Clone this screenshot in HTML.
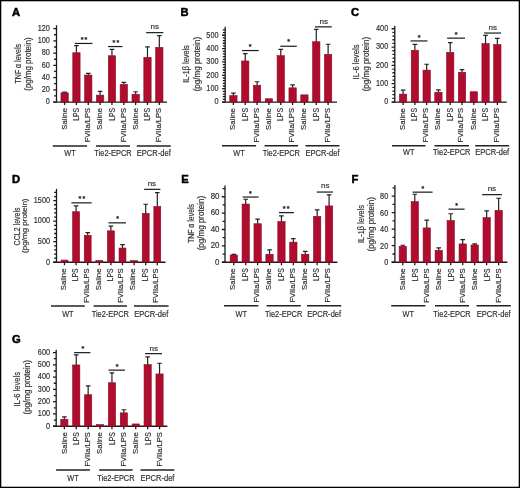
<!DOCTYPE html>
<html><head><meta charset="utf-8"><title>Figure</title>
<style>
html,body{margin:0;padding:0;background:#fff;}
body{width:520px;height:488px;overflow:hidden;}
svg{display:block;filter:blur(0.3px);}
text{font-family:"Liberation Sans", Arial, sans-serif;fill:#303030;stroke:#303030;stroke-width:0.18px;}
.let{font-weight:bold;font-size:11.2px;fill:#000;stroke:#000;stroke-width:0.5px;}
.tk{font-size:8.3px;text-anchor:end;}
.rl{font-size:8.2px;text-anchor:end;}
.gt{font-size:8.8px;text-anchor:middle;}
.yl{font-size:8.2px;text-anchor:middle;}
.ns{font-size:8px;text-anchor:middle;}
.st{font-size:7px;font-weight:bold;text-anchor:middle;fill:#111;letter-spacing:1.2px;}
.ax{stroke:#1a1a1a;stroke-width:1.3;fill:none;}
.err{stroke:#222;stroke-width:1.2;fill:none;}
.sig{stroke:#1a1a1a;stroke-width:1.2;fill:none;}
.grp{stroke:#222;stroke-width:1.5;fill:none;}
.bar{fill:#B00C2E;stroke:#860A24;stroke-width:0.6;}
</style></head>
<body>
<svg width="520" height="488" viewBox="0 0 520 488">
<rect x="0.5" y="0.5" width="519" height="487" fill="#fff" stroke="#000" stroke-width="1.6"/>
<text x="12" y="16" class="let">A</text>
<text x="49.8" y="104.35" class="tk" textLength="4.05" lengthAdjust="spacingAndGlyphs">0</text>
<text x="49.8" y="92.12" class="tk" textLength="8.1" lengthAdjust="spacingAndGlyphs">20</text>
<text x="49.8" y="79.88" class="tk" textLength="8.1" lengthAdjust="spacingAndGlyphs">40</text>
<text x="49.8" y="67.65" class="tk" textLength="8.1" lengthAdjust="spacingAndGlyphs">60</text>
<text x="49.8" y="55.42" class="tk" textLength="8.1" lengthAdjust="spacingAndGlyphs">80</text>
<text x="49.8" y="43.18" class="tk" textLength="12.15" lengthAdjust="spacingAndGlyphs">100</text>
<text x="49.8" y="30.95" class="tk" textLength="12.15" lengthAdjust="spacingAndGlyphs">120</text>
<path d="M53.3 102.05H56.5 M54.1 95.93H56.5 M53.3 89.82H56.5 M54.1 83.7H56.5 M53.3 77.58H56.5 M54.1 71.47H56.5 M53.3 65.35H56.5 M54.1 59.23H56.5 M53.3 53.12H56.5 M54.1 47H56.5 M53.3 40.88H56.5 M54.1 34.77H56.5 M53.3 28.65H56.5" class="ax" stroke-width="1"/>
<path d="M56.5 25.25V102.05" class="ax"/>
<path d="M53.2 102.05H167" class="ax"/>
<rect x="60.95" y="92.85" width="7.3" height="9.2" class="bar"/>
<path d="M64.6 92.85V92.05M62.3 92.05H66.9" class="err"/>
<text transform="translate(66.85 108) rotate(-90)" class="rl" style="font-size:7.7px" textLength="21.8" lengthAdjust="spacingAndGlyphs">Saline</text>
<rect x="72.79" y="52.75" width="7.3" height="49.3" class="bar"/>
<path d="M76.44 52.75V45.65M74.14 45.65H78.74" class="err"/>
<text transform="translate(79.37 108) rotate(-90)" class="rl" style="font-size:8.2px" textLength="12.8" lengthAdjust="spacingAndGlyphs">LPS</text>
<rect x="84.63" y="75.05" width="7.3" height="27" class="bar"/>
<path d="M88.28 75.05V73.35M85.98 73.35H90.58" class="err"/>
<text transform="translate(90.24 108) rotate(-90)" class="rl" style="font-size:8.0px" textLength="34.3" lengthAdjust="spacingAndGlyphs">FVIIa/LPS</text>
<rect x="96.47" y="95.15" width="7.3" height="6.9" class="bar"/>
<path d="M100.12 95.15V91.45M97.82 91.45H102.42" class="err"/>
<text transform="translate(102.37 108) rotate(-90)" class="rl" style="font-size:7.7px" textLength="21.8" lengthAdjust="spacingAndGlyphs">Saline</text>
<rect x="108.31" y="55.75" width="7.3" height="46.3" class="bar"/>
<path d="M111.96 55.75V49.45M109.66 49.45H114.26" class="err"/>
<text transform="translate(114.89 108) rotate(-90)" class="rl" style="font-size:8.2px" textLength="12.8" lengthAdjust="spacingAndGlyphs">LPS</text>
<rect x="120.15" y="84.45" width="7.3" height="17.6" class="bar"/>
<path d="M123.8 84.45V82.45M121.5 82.45H126.1" class="err"/>
<text transform="translate(125.76 108) rotate(-90)" class="rl" style="font-size:8.0px" textLength="34.3" lengthAdjust="spacingAndGlyphs">FVIIa/LPS</text>
<rect x="131.99" y="94.25" width="7.3" height="7.8" class="bar"/>
<path d="M135.64 94.25V91.75M133.34 91.75H137.94" class="err"/>
<text transform="translate(137.89 108) rotate(-90)" class="rl" style="font-size:7.7px" textLength="21.8" lengthAdjust="spacingAndGlyphs">Saline</text>
<rect x="143.83" y="57.35" width="7.3" height="44.7" class="bar"/>
<path d="M147.48 57.35V46.95M145.18 46.95H149.78" class="err"/>
<text transform="translate(150.41 108) rotate(-90)" class="rl" style="font-size:8.2px" textLength="12.8" lengthAdjust="spacingAndGlyphs">LPS</text>
<rect x="155.67" y="47.45" width="7.3" height="54.6" class="bar"/>
<path d="M159.32 47.45V35.65M157.02 35.65H161.62" class="err"/>
<text transform="translate(161.28 108) rotate(-90)" class="rl" style="font-size:8.0px" textLength="34.3" lengthAdjust="spacingAndGlyphs">FVIIa/LPS</text>
<path d="M64.6 102.05V104.95 M76.44 102.05V104.95 M88.28 102.05V104.95 M100.12 102.05V104.95 M111.96 102.05V104.95 M123.8 102.05V104.95 M135.64 102.05V104.95 M147.48 102.05V104.95 M159.32 102.05V104.95" class="ax" stroke-width="1.1"/>
<path d="M74.8 43.45H92.5" class="sig"/>
<text x="84.6" y="41.9" class="st">**</text>
<path d="M108.1 46.55H122.5" class="sig"/>
<text x="116.5" y="45.1" class="st">**</text>
<path d="M146.2 32.65H163.3" class="sig"/>
<text x="154.7" y="28.6" class="ns">ns</text>
<path d="M52.8 145.9H87.1" class="grp"/>
<text x="69.95" y="155.5" class="gt" textLength="11.4" lengthAdjust="spacingAndGlyphs">WT</text>
<path d="M96 145.9H130" class="grp"/>
<text x="113" y="155.5" class="gt" textLength="37.3" lengthAdjust="spacingAndGlyphs">Tie2-EPCR</text>
<path d="M136.8 145.9H170.7" class="grp"/>
<text x="153.75" y="155.5" class="gt" textLength="34" lengthAdjust="spacingAndGlyphs">EPCR-def</text>
<text transform="translate(20.7 63.7) rotate(-90)" class="yl" textLength="39.5" lengthAdjust="spacingAndGlyphs">TNF α levels</text>
<text transform="translate(30.5 64) rotate(-90)" class="yl" style="font-size:8.2px" textLength="53.5" lengthAdjust="spacingAndGlyphs">(pg/mg protein)</text>
<text x="180.4" y="16" class="let">B</text>
<text x="218.5" y="104.35" class="tk" textLength="4.05" lengthAdjust="spacingAndGlyphs">0</text>
<text x="218.5" y="90.99" class="tk" textLength="12.15" lengthAdjust="spacingAndGlyphs">100</text>
<text x="218.5" y="77.63" class="tk" textLength="12.15" lengthAdjust="spacingAndGlyphs">200</text>
<text x="218.5" y="64.27" class="tk" textLength="12.15" lengthAdjust="spacingAndGlyphs">300</text>
<text x="218.5" y="50.91" class="tk" textLength="12.15" lengthAdjust="spacingAndGlyphs">400</text>
<text x="218.5" y="37.55" class="tk" textLength="12.15" lengthAdjust="spacingAndGlyphs">500</text>
<path d="M222 102.05H225.2 M222.8 99.38H225.2 M222.8 96.71H225.2 M222.8 94.03H225.2 M222.8 91.36H225.2 M222 88.69H225.2 M222.8 86.02H225.2 M222.8 83.35H225.2 M222.8 80.67H225.2 M222.8 78H225.2 M222 75.33H225.2 M222.8 72.66H225.2 M222.8 69.99H225.2 M222.8 67.31H225.2 M222.8 64.64H225.2 M222 61.97H225.2 M222.8 59.3H225.2 M222.8 56.63H225.2 M222.8 53.95H225.2 M222.8 51.28H225.2 M222 48.61H225.2 M222.8 45.94H225.2 M222.8 43.27H225.2 M222.8 40.59H225.2 M222.8 37.92H225.2 M222 35.25H225.2 M222.8 32.58H225.2 M222.8 29.91H225.2" class="ax" stroke-width="1"/>
<path d="M225.2 26.65V102.05" class="ax"/>
<path d="M222.2 102.05H337" class="ax"/>
<rect x="229.75" y="95.65" width="7.3" height="6.4" class="bar"/>
<path d="M233.4 95.65V93.05M231.1 93.05H235.7" class="err"/>
<text transform="translate(235.25 108.1) rotate(-90)" class="rl" style="font-size:7.7px" textLength="21.8" lengthAdjust="spacingAndGlyphs">Saline</text>
<rect x="241.59" y="60.95" width="7.3" height="41.1" class="bar"/>
<path d="M245.24 60.95V53.55M242.94 53.55H247.54" class="err"/>
<text transform="translate(247.77 108.1) rotate(-90)" class="rl" style="font-size:8.2px" textLength="12.8" lengthAdjust="spacingAndGlyphs">LPS</text>
<rect x="253.43" y="85.25" width="7.3" height="16.8" class="bar"/>
<path d="M257.08 85.25V81.75M254.78 81.75H259.38" class="err"/>
<text transform="translate(258.64 108.1) rotate(-90)" class="rl" style="font-size:8.0px" textLength="34.3" lengthAdjust="spacingAndGlyphs">FVIIa/LPS</text>
<rect x="265.27" y="98.75" width="7.3" height="3.3" class="bar"/>
<text transform="translate(270.77 108.1) rotate(-90)" class="rl" style="font-size:7.7px" textLength="21.8" lengthAdjust="spacingAndGlyphs">Saline</text>
<rect x="277.11" y="55.65" width="7.3" height="46.4" class="bar"/>
<path d="M280.76 55.65V49.45M278.46 49.45H283.06" class="err"/>
<text transform="translate(283.29 108.1) rotate(-90)" class="rl" style="font-size:8.2px" textLength="12.8" lengthAdjust="spacingAndGlyphs">LPS</text>
<rect x="288.95" y="87.85" width="7.3" height="14.2" class="bar"/>
<path d="M292.6 87.85V84.95M290.3 84.95H294.9" class="err"/>
<text transform="translate(294.16 108.1) rotate(-90)" class="rl" style="font-size:8.0px" textLength="34.3" lengthAdjust="spacingAndGlyphs">FVIIa/LPS</text>
<rect x="300.79" y="94.85" width="7.3" height="7.2" class="bar"/>
<text transform="translate(306.29 108.1) rotate(-90)" class="rl" style="font-size:7.7px" textLength="21.8" lengthAdjust="spacingAndGlyphs">Saline</text>
<rect x="312.63" y="41.75" width="7.3" height="60.3" class="bar"/>
<path d="M316.28 41.75V29.45M313.98 29.45H318.58" class="err"/>
<text transform="translate(318.81 108.1) rotate(-90)" class="rl" style="font-size:8.2px" textLength="12.8" lengthAdjust="spacingAndGlyphs">LPS</text>
<rect x="324.47" y="54.35" width="7.3" height="47.7" class="bar"/>
<path d="M328.12 54.35V44.25M325.82 44.25H330.42" class="err"/>
<text transform="translate(329.68 108.1) rotate(-90)" class="rl" style="font-size:8.0px" textLength="34.3" lengthAdjust="spacingAndGlyphs">FVIIa/LPS</text>
<path d="M233.4 102.05V104.95 M245.24 102.05V104.95 M257.08 102.05V104.95 M268.92 102.05V104.95 M280.76 102.05V104.95 M292.6 102.05V104.95 M304.44 102.05V104.95 M316.28 102.05V104.95 M328.12 102.05V104.95" class="ax" stroke-width="1.1"/>
<path d="M242.1 50.55H258.7" class="sig"/>
<text x="250.7" y="48.5" class="st">*</text>
<path d="M280.3 46.25H296.8" class="sig"/>
<text x="289.1" y="43.9" class="st">*</text>
<path d="M314.9 26.85H331.8" class="sig"/>
<text x="323.8" y="23.5" class="ns">ns</text>
<path d="M222 145.8H256.1" class="grp"/>
<text x="239.05" y="155.5" class="gt" textLength="11.4" lengthAdjust="spacingAndGlyphs">WT</text>
<path d="M264.6 145.8H298" class="grp"/>
<text x="281.3" y="155.5" class="gt" textLength="37.3" lengthAdjust="spacingAndGlyphs">Tie2-EPCR</text>
<path d="M305.5 145.8H339.5" class="grp"/>
<text x="322.5" y="155.5" class="gt" textLength="34" lengthAdjust="spacingAndGlyphs">EPCR-def</text>
<text transform="translate(189.1 64) rotate(-90)" class="yl" textLength="37.5" lengthAdjust="spacingAndGlyphs">IL-1β levels</text>
<text transform="translate(199.8 64.1) rotate(-90)" class="yl" style="font-size:8.2px" textLength="54.5" lengthAdjust="spacingAndGlyphs">(pg/mg protein)</text>
<text x="350.9" y="16" class="let">C</text>
<text x="388.2" y="104.35" class="tk" textLength="4.05" lengthAdjust="spacingAndGlyphs">0</text>
<text x="388.2" y="86.02" class="tk" textLength="12.15" lengthAdjust="spacingAndGlyphs">100</text>
<text x="388.2" y="67.7" class="tk" textLength="12.15" lengthAdjust="spacingAndGlyphs">200</text>
<text x="388.2" y="49.37" class="tk" textLength="12.15" lengthAdjust="spacingAndGlyphs">300</text>
<text x="388.2" y="31.05" class="tk" textLength="12.15" lengthAdjust="spacingAndGlyphs">400</text>
<path d="M391.6 102.05H394.8 M392.4 98.38H394.8 M392.4 94.72H394.8 M392.4 91.05H394.8 M392.4 87.39H394.8 M391.6 83.72H394.8 M392.4 80.06H394.8 M392.4 76.39H394.8 M392.4 72.73H394.8 M392.4 69.06H394.8 M391.6 65.4H394.8 M392.4 61.73H394.8 M392.4 58.07H394.8 M392.4 54.41H394.8 M392.4 50.74H394.8 M391.6 47.07H394.8 M392.4 43.41H394.8 M392.4 39.74H394.8 M392.4 36.08H394.8 M392.4 32.41H394.8 M391.6 28.75H394.8" class="ax" stroke-width="1"/>
<path d="M394.8 25.85V102.05" class="ax"/>
<path d="M391.8 102.05H506.8" class="ax"/>
<rect x="399.45" y="94.15" width="7.3" height="7.9" class="bar"/>
<path d="M403.1 94.15V90.05M400.8 90.05H405.4" class="err"/>
<text transform="translate(404.85 108.1) rotate(-90)" class="rl" style="font-size:7.7px" textLength="21.8" lengthAdjust="spacingAndGlyphs">Saline</text>
<rect x="411.23" y="50.25" width="7.3" height="51.8" class="bar"/>
<path d="M414.88 50.25V44.35M412.58 44.35H417.18" class="err"/>
<text transform="translate(417.31 108.1) rotate(-90)" class="rl" style="font-size:8.2px" textLength="12.8" lengthAdjust="spacingAndGlyphs">LPS</text>
<rect x="423.01" y="70.15" width="7.3" height="31.9" class="bar"/>
<path d="M426.66 70.15V64.25M424.36 64.25H428.96" class="err"/>
<text transform="translate(428.12 108.1) rotate(-90)" class="rl" style="font-size:8.0px" textLength="34.3" lengthAdjust="spacingAndGlyphs">FVIIa/LPS</text>
<rect x="434.79" y="92.25" width="7.3" height="9.8" class="bar"/>
<path d="M438.44 92.25V89.95M436.14 89.95H440.74" class="err"/>
<text transform="translate(440.19 108.1) rotate(-90)" class="rl" style="font-size:7.7px" textLength="21.8" lengthAdjust="spacingAndGlyphs">Saline</text>
<rect x="446.57" y="52.45" width="7.3" height="49.6" class="bar"/>
<path d="M450.22 52.45V42.65M447.92 42.65H452.52" class="err"/>
<text transform="translate(452.65 108.1) rotate(-90)" class="rl" style="font-size:8.2px" textLength="12.8" lengthAdjust="spacingAndGlyphs">LPS</text>
<rect x="458.35" y="72.25" width="7.3" height="29.8" class="bar"/>
<path d="M462 72.25V69.55M459.7 69.55H464.3" class="err"/>
<text transform="translate(463.46 108.1) rotate(-90)" class="rl" style="font-size:8.0px" textLength="34.3" lengthAdjust="spacingAndGlyphs">FVIIa/LPS</text>
<rect x="470.13" y="91.75" width="7.3" height="10.3" class="bar"/>
<text transform="translate(475.53 108.1) rotate(-90)" class="rl" style="font-size:7.7px" textLength="21.8" lengthAdjust="spacingAndGlyphs">Saline</text>
<rect x="481.91" y="43.65" width="7.3" height="58.4" class="bar"/>
<path d="M485.56 43.65V35.45M483.26 35.45H487.86" class="err"/>
<text transform="translate(487.99 108.1) rotate(-90)" class="rl" style="font-size:8.2px" textLength="12.8" lengthAdjust="spacingAndGlyphs">LPS</text>
<rect x="493.69" y="44.65" width="7.3" height="57.4" class="bar"/>
<path d="M497.34 44.65V38.45M495.04 38.45H499.64" class="err"/>
<text transform="translate(498.8 108.1) rotate(-90)" class="rl" style="font-size:8.0px" textLength="34.3" lengthAdjust="spacingAndGlyphs">FVIIa/LPS</text>
<path d="M403.1 102.05V104.95 M414.88 102.05V104.95 M426.66 102.05V104.95 M438.44 102.05V104.95 M450.22 102.05V104.95 M462 102.05V104.95 M473.78 102.05V104.95 M485.56 102.05V104.95 M497.34 102.05V104.95" class="ax" stroke-width="1.1"/>
<path d="M410.5 40.95H427.5" class="sig"/>
<text x="419.7" y="39.8" class="st">*</text>
<path d="M447.1 38.15H465" class="sig"/>
<text x="456.8" y="37.1" class="st">*</text>
<path d="M484.1 33.05H501" class="sig"/>
<text x="492.7" y="30.2" class="ns">ns</text>
<path d="M392 145.8H425.5" class="grp"/>
<text x="408.75" y="155.3" class="gt" textLength="11.4" lengthAdjust="spacingAndGlyphs">WT</text>
<path d="M434.5 145.8H469" class="grp"/>
<text x="451.75" y="155.3" class="gt" textLength="37.3" lengthAdjust="spacingAndGlyphs">Tie2-EPCR</text>
<path d="M475.2 145.8H509.2" class="grp"/>
<text x="492.2" y="155.3" class="gt" textLength="34" lengthAdjust="spacingAndGlyphs">EPCR-def</text>
<text transform="translate(359.1 62) rotate(-90)" class="yl" textLength="35" lengthAdjust="spacingAndGlyphs">IL-6 levels</text>
<text transform="translate(368.5 64.1) rotate(-90)" class="yl" style="font-size:8.2px" textLength="54.5" lengthAdjust="spacingAndGlyphs">(pg/mg protein)</text>
<text x="12" y="182.5" class="let">D</text>
<text x="50" y="264.55" class="tk" textLength="4.05" lengthAdjust="spacingAndGlyphs">0</text>
<text x="50" y="244.02" class="tk" textLength="12.15" lengthAdjust="spacingAndGlyphs">500</text>
<text x="50" y="223.48" class="tk" textLength="16.2" lengthAdjust="spacingAndGlyphs">1000</text>
<text x="50" y="202.95" class="tk" textLength="16.2" lengthAdjust="spacingAndGlyphs">1500</text>
<path d="M53.3 262.25H56.5 M54.1 258.14H56.5 M54.1 254.04H56.5 M54.1 249.93H56.5 M54.1 245.82H56.5 M53.3 241.72H56.5 M54.1 237.61H56.5 M54.1 233.5H56.5 M54.1 229.4H56.5 M54.1 225.29H56.5 M53.3 221.18H56.5 M54.1 217.08H56.5 M54.1 212.97H56.5 M54.1 208.86H56.5 M54.1 204.76H56.5 M53.3 200.65H56.5 M54.1 196.54H56.5 M54.1 192.44H56.5" class="ax" stroke-width="1"/>
<path d="M56.5 188.85V262.25" class="ax"/>
<path d="M53.2 262.25H165.5" class="ax"/>
<rect x="61.05" y="260.05" width="6.9" height="2.2" class="bar"/>
<text transform="translate(65.75 268.5) rotate(-90)" class="rl" style="font-size:7.7px" textLength="21.8" lengthAdjust="spacingAndGlyphs">Saline</text>
<rect x="72.65" y="211.75" width="6.9" height="50.5" class="bar"/>
<path d="M76.1 211.75V205.85M73.8 205.85H78.4" class="err"/>
<text transform="translate(78.03 268.5) rotate(-90)" class="rl" style="font-size:8.2px" textLength="12.8" lengthAdjust="spacingAndGlyphs">LPS</text>
<rect x="84.25" y="235.35" width="6.9" height="26.9" class="bar"/>
<path d="M87.7 235.35V232.55M85.4 232.55H90" class="err"/>
<text transform="translate(88.66 268.5) rotate(-90)" class="rl" style="font-size:8.0px" textLength="34.3" lengthAdjust="spacingAndGlyphs">FVIIa/LPS</text>
<rect x="95.85" y="260.45" width="6.9" height="1.8" class="bar"/>
<text transform="translate(100.55 268.5) rotate(-90)" class="rl" style="font-size:7.7px" textLength="21.8" lengthAdjust="spacingAndGlyphs">Saline</text>
<rect x="107.45" y="230.85" width="6.9" height="31.4" class="bar"/>
<path d="M110.9 230.85V226.05M108.6 226.05H113.2" class="err"/>
<text transform="translate(112.83 268.5) rotate(-90)" class="rl" style="font-size:8.2px" textLength="12.8" lengthAdjust="spacingAndGlyphs">LPS</text>
<rect x="119.05" y="248.05" width="6.9" height="14.2" class="bar"/>
<path d="M122.5 248.05V244.55M120.2 244.55H124.8" class="err"/>
<text transform="translate(123.46 268.5) rotate(-90)" class="rl" style="font-size:8.0px" textLength="34.3" lengthAdjust="spacingAndGlyphs">FVIIa/LPS</text>
<rect x="130.65" y="260.65" width="6.9" height="1.6" class="bar"/>
<text transform="translate(135.35 268.5) rotate(-90)" class="rl" style="font-size:7.7px" textLength="21.8" lengthAdjust="spacingAndGlyphs">Saline</text>
<rect x="142.25" y="213.35" width="6.9" height="48.9" class="bar"/>
<path d="M145.7 213.35V204.25M143.4 204.25H148" class="err"/>
<text transform="translate(147.63 268.5) rotate(-90)" class="rl" style="font-size:8.2px" textLength="12.8" lengthAdjust="spacingAndGlyphs">LPS</text>
<rect x="153.85" y="206.55" width="6.9" height="55.7" class="bar"/>
<path d="M157.3 206.55V192.55M155 192.55H159.6" class="err"/>
<text transform="translate(158.26 268.5) rotate(-90)" class="rl" style="font-size:8.0px" textLength="34.3" lengthAdjust="spacingAndGlyphs">FVIIa/LPS</text>
<path d="M64.5 262.25V265.15 M76.1 262.25V265.15 M87.7 262.25V265.15 M99.3 262.25V265.15 M110.9 262.25V265.15 M122.5 262.25V265.15 M134.1 262.25V265.15 M145.7 262.25V265.15 M157.3 262.25V265.15" class="ax" stroke-width="1.1"/>
<path d="M71.4 202.85H91.7" class="sig"/>
<text x="82.5" y="201.1" class="st">**</text>
<path d="M108.5 222.85H126" class="sig"/>
<text x="118.1" y="221.41" class="st">*</text>
<path d="M144.1 189.35H160.4" class="sig"/>
<text x="151.9" y="185.9" class="ns">ns</text>
<path d="M51 305.9H84.8" class="grp"/>
<text x="67.9" y="316.7" class="gt" textLength="11.4" lengthAdjust="spacingAndGlyphs">WT</text>
<path d="M93.6 305.9H127" class="grp"/>
<text x="110.3" y="316.7" class="gt" textLength="37.3" lengthAdjust="spacingAndGlyphs">Tie2-EPCR</text>
<path d="M134 305.9H168.6" class="grp"/>
<text x="151.3" y="316.7" class="gt" textLength="34" lengthAdjust="spacingAndGlyphs">EPCR-def</text>
<text transform="translate(19.5 226.4) rotate(-90)" class="yl" textLength="38" lengthAdjust="spacingAndGlyphs">CCL2 levels</text>
<text transform="translate(26.6 225.7) rotate(-90)" class="yl" style="font-size:7.5px" textLength="54.5" lengthAdjust="spacingAndGlyphs">(pg/mg protein)</text>
<text x="181.3" y="182.5" class="let">E</text>
<text x="219.5" y="264.55" class="tk" textLength="4.4" lengthAdjust="spacingAndGlyphs">0</text>
<text x="219.5" y="248.18" class="tk" textLength="8.8" lengthAdjust="spacingAndGlyphs">20</text>
<text x="219.5" y="231.8" class="tk" textLength="8.8" lengthAdjust="spacingAndGlyphs">40</text>
<text x="219.5" y="215.43" class="tk" textLength="8.8" lengthAdjust="spacingAndGlyphs">60</text>
<text x="219.5" y="199.05" class="tk" textLength="8.8" lengthAdjust="spacingAndGlyphs">80</text>
<path d="M221.8 262.25H225 M222.6 254.06H225 M221.8 245.88H225 M222.6 237.69H225 M221.8 229.5H225 M222.6 221.31H225 M221.8 213.12H225 M222.6 204.94H225 M221.8 196.75H225 M222.6 188.56H225" class="ax" stroke-width="1"/>
<path d="M225 185.55V262.25" class="ax"/>
<path d="M222 262.25H337.4" class="ax"/>
<rect x="230.15" y="255.05" width="7.3" height="7.2" class="bar"/>
<path d="M233.8 255.05V254.35M231.5 254.35H236.1" class="err"/>
<text transform="translate(235.35 268.3) rotate(-90)" class="rl" style="font-size:7.7px" textLength="21.8" lengthAdjust="spacingAndGlyphs">Saline</text>
<rect x="242.06" y="204.05" width="7.3" height="58.2" class="bar"/>
<path d="M245.71 204.05V199.25M243.41 199.25H248.01" class="err"/>
<text transform="translate(247.94 268.3) rotate(-90)" class="rl" style="font-size:8.2px" textLength="12.8" lengthAdjust="spacingAndGlyphs">LPS</text>
<rect x="253.97" y="223.75" width="7.3" height="38.5" class="bar"/>
<path d="M257.62 223.75V219.15M255.32 219.15H259.92" class="err"/>
<text transform="translate(258.88 268.3) rotate(-90)" class="rl" style="font-size:8.0px" textLength="34.3" lengthAdjust="spacingAndGlyphs">FVIIa/LPS</text>
<rect x="265.88" y="254.25" width="7.3" height="8" class="bar"/>
<path d="M269.53 254.25V249.95M267.23 249.95H271.83" class="err"/>
<text transform="translate(271.08 268.3) rotate(-90)" class="rl" style="font-size:7.7px" textLength="21.8" lengthAdjust="spacingAndGlyphs">Saline</text>
<rect x="277.79" y="221.55" width="7.3" height="40.7" class="bar"/>
<path d="M281.44 221.55V215.95M279.14 215.95H283.74" class="err"/>
<text transform="translate(283.67 268.3) rotate(-90)" class="rl" style="font-size:8.2px" textLength="12.8" lengthAdjust="spacingAndGlyphs">LPS</text>
<rect x="289.7" y="242.15" width="7.3" height="20.1" class="bar"/>
<path d="M293.35 242.15V238.65M291.05 238.65H295.65" class="err"/>
<text transform="translate(294.61 268.3) rotate(-90)" class="rl" style="font-size:8.0px" textLength="34.3" lengthAdjust="spacingAndGlyphs">FVIIa/LPS</text>
<rect x="301.61" y="254.25" width="7.3" height="8" class="bar"/>
<path d="M305.26 254.25V251.35M302.96 251.35H307.56" class="err"/>
<text transform="translate(306.81 268.3) rotate(-90)" class="rl" style="font-size:7.7px" textLength="21.8" lengthAdjust="spacingAndGlyphs">Saline</text>
<rect x="313.52" y="216.35" width="7.3" height="45.9" class="bar"/>
<path d="M317.17 216.35V209.85M314.87 209.85H319.47" class="err"/>
<text transform="translate(319.4 268.3) rotate(-90)" class="rl" style="font-size:8.2px" textLength="12.8" lengthAdjust="spacingAndGlyphs">LPS</text>
<rect x="325.43" y="205.95" width="7.3" height="56.3" class="bar"/>
<path d="M329.08 205.95V194.95M326.78 194.95H331.38" class="err"/>
<text transform="translate(330.34 268.3) rotate(-90)" class="rl" style="font-size:8.0px" textLength="34.3" lengthAdjust="spacingAndGlyphs">FVIIa/LPS</text>
<path d="M233.8 262.25V265.15 M245.71 262.25V265.15 M257.62 262.25V265.15 M269.53 262.25V265.15 M281.44 262.25V265.15 M293.35 262.25V265.15 M305.26 262.25V265.15 M317.17 262.25V265.15 M329.08 262.25V265.15" class="ax" stroke-width="1.1"/>
<path d="M242.7 197.05H258.6" class="sig"/>
<text x="251" y="195.6" class="st">*</text>
<path d="M278.9 212.65H294" class="sig"/>
<text x="286.7" y="210.7" class="st">**</text>
<path d="M316.8 192.05H333" class="sig"/>
<text x="325.2" y="188.4" class="ns">ns</text>
<path d="M224 305.8H258.4" class="grp"/>
<text x="241.2" y="316.7" class="gt" textLength="11.4" lengthAdjust="spacingAndGlyphs">WT</text>
<path d="M266.6 305.8H300.8" class="grp"/>
<text x="283.7" y="316.7" class="gt" textLength="37.3" lengthAdjust="spacingAndGlyphs">Tie2-EPCR</text>
<path d="M307 305.8H341.3" class="grp"/>
<text x="324.15" y="316.7" class="gt" textLength="34" lengthAdjust="spacingAndGlyphs">EPCR-def</text>
<text transform="translate(194.2 223.5) rotate(-90)" class="yl" textLength="39" lengthAdjust="spacingAndGlyphs">TNF α levels</text>
<text transform="translate(204.3 223.1) rotate(-90)" class="yl" style="font-size:8.2px" textLength="54.5" lengthAdjust="spacingAndGlyphs">(pg/mg protein)</text>
<text x="351.5" y="182.5" class="let">F</text>
<text x="388.2" y="265.25" class="tk" textLength="4.05" lengthAdjust="spacingAndGlyphs">0</text>
<text x="388.2" y="248.72" class="tk" textLength="8.1" lengthAdjust="spacingAndGlyphs">20</text>
<text x="388.2" y="232.2" class="tk" textLength="8.1" lengthAdjust="spacingAndGlyphs">40</text>
<text x="388.2" y="215.67" class="tk" textLength="8.1" lengthAdjust="spacingAndGlyphs">60</text>
<text x="388.2" y="199.15" class="tk" textLength="8.1" lengthAdjust="spacingAndGlyphs">80</text>
<path d="M391.7 262.25H394.9 M392.5 253.99H394.9 M391.7 245.72H394.9 M392.5 237.46H394.9 M391.7 229.2H394.9 M392.5 220.94H394.9 M391.7 212.67H394.9 M392.5 204.41H394.9 M391.7 196.15H394.9 M392.5 187.89H394.9" class="ax" stroke-width="1"/>
<path d="M394.9 185.05V262.25" class="ax"/>
<path d="M391.6 262.25H507.4" class="ax"/>
<rect x="399.15" y="246.35" width="7.3" height="15.9" class="bar"/>
<path d="M402.8 246.35V245.25M400.5 245.25H405.1" class="err"/>
<text transform="translate(405.05 268.4) rotate(-90)" class="rl" style="font-size:7.7px" textLength="21.8" lengthAdjust="spacingAndGlyphs">Saline</text>
<rect x="411.13" y="201.65" width="7.3" height="60.6" class="bar"/>
<path d="M414.78 201.65V194.25M412.48 194.25H417.08" class="err"/>
<text transform="translate(417.71 268.4) rotate(-90)" class="rl" style="font-size:8.2px" textLength="12.8" lengthAdjust="spacingAndGlyphs">LPS</text>
<rect x="423.11" y="227.95" width="7.3" height="34.3" class="bar"/>
<path d="M426.76 227.95V220.05M424.46 220.05H429.06" class="err"/>
<text transform="translate(428.72 268.4) rotate(-90)" class="rl" style="font-size:8.0px" textLength="34.3" lengthAdjust="spacingAndGlyphs">FVIIa/LPS</text>
<rect x="435.09" y="250.35" width="7.3" height="11.9" class="bar"/>
<path d="M438.74 250.35V247.85M436.44 247.85H441.04" class="err"/>
<text transform="translate(440.99 268.4) rotate(-90)" class="rl" style="font-size:7.7px" textLength="21.8" lengthAdjust="spacingAndGlyphs">Saline</text>
<rect x="447.07" y="220.55" width="7.3" height="41.7" class="bar"/>
<path d="M450.72 220.55V213.75M448.42 213.75H453.02" class="err"/>
<text transform="translate(453.65 268.4) rotate(-90)" class="rl" style="font-size:8.2px" textLength="12.8" lengthAdjust="spacingAndGlyphs">LPS</text>
<rect x="459.05" y="243.95" width="7.3" height="18.3" class="bar"/>
<path d="M462.7 243.95V239.65M460.4 239.65H465" class="err"/>
<text transform="translate(464.66 268.4) rotate(-90)" class="rl" style="font-size:8.0px" textLength="34.3" lengthAdjust="spacingAndGlyphs">FVIIa/LPS</text>
<rect x="471.03" y="244.95" width="7.3" height="17.3" class="bar"/>
<path d="M474.68 244.95V243.95M472.38 243.95H476.98" class="err"/>
<text transform="translate(476.93 268.4) rotate(-90)" class="rl" style="font-size:7.7px" textLength="21.8" lengthAdjust="spacingAndGlyphs">Saline</text>
<rect x="483.01" y="217.65" width="7.3" height="44.6" class="bar"/>
<path d="M486.66 217.65V210.85M484.36 210.85H488.96" class="err"/>
<text transform="translate(489.59 268.4) rotate(-90)" class="rl" style="font-size:8.2px" textLength="12.8" lengthAdjust="spacingAndGlyphs">LPS</text>
<rect x="494.99" y="210.45" width="7.3" height="51.8" class="bar"/>
<path d="M498.64 210.45V198.25M496.34 198.25H500.94" class="err"/>
<text transform="translate(500.6 268.4) rotate(-90)" class="rl" style="font-size:8.0px" textLength="34.3" lengthAdjust="spacingAndGlyphs">FVIIa/LPS</text>
<path d="M402.8 262.25V265.15 M414.78 262.25V265.15 M426.76 262.25V265.15 M438.74 262.25V265.15 M450.72 262.25V265.15 M462.7 262.25V265.15 M474.68 262.25V265.15 M486.66 262.25V265.15 M498.64 262.25V265.15" class="ax" stroke-width="1.1"/>
<path d="M412.7 192.15H432.6" class="sig"/>
<text x="423.4" y="190.6" class="st">*</text>
<path d="M448.5 209.15H464.6" class="sig"/>
<text x="457.2" y="207.8" class="st">*</text>
<path d="M482.1 194.65H502" class="sig"/>
<text x="491.9" y="191.2" class="ns">ns</text>
<path d="M391.2 305.7H425.4" class="grp"/>
<text x="408.3" y="316.8" class="gt" textLength="11.4" lengthAdjust="spacingAndGlyphs">WT</text>
<path d="M435 305.7H469" class="grp"/>
<text x="452" y="316.8" class="gt" textLength="37.3" lengthAdjust="spacingAndGlyphs">Tie2-EPCR</text>
<path d="M476.6 305.7H510.8" class="grp"/>
<text x="493.7" y="316.8" class="gt" textLength="34" lengthAdjust="spacingAndGlyphs">EPCR-def</text>
<text transform="translate(364.1 224) rotate(-90)" class="yl" textLength="38" lengthAdjust="spacingAndGlyphs">IL-1β levels</text>
<text transform="translate(374.2 224.3) rotate(-90)" class="yl" style="font-size:8.2px" textLength="54.5" lengthAdjust="spacingAndGlyphs">(pg/mg protein)</text>
<text x="12" y="343.2" class="let">G</text>
<text x="50" y="428.55" class="tk" textLength="4.05" lengthAdjust="spacingAndGlyphs">0</text>
<text x="50" y="416.27" class="tk" textLength="12.15" lengthAdjust="spacingAndGlyphs">100</text>
<text x="50" y="403.98" class="tk" textLength="12.15" lengthAdjust="spacingAndGlyphs">200</text>
<text x="50" y="391.7" class="tk" textLength="12.15" lengthAdjust="spacingAndGlyphs">300</text>
<text x="50" y="379.42" class="tk" textLength="12.15" lengthAdjust="spacingAndGlyphs">400</text>
<text x="50" y="367.13" class="tk" textLength="12.15" lengthAdjust="spacingAndGlyphs">500</text>
<text x="50" y="354.85" class="tk" textLength="12.15" lengthAdjust="spacingAndGlyphs">600</text>
<path d="M53 426.25H56.2 M53.8 420.11H56.2 M53 413.97H56.2 M53.8 407.82H56.2 M53 401.68H56.2 M53.8 395.54H56.2 M53 389.4H56.2 M53.8 383.26H56.2 M53 377.12H56.2 M53.8 370.98H56.2 M53 364.83H56.2 M53.8 358.69H56.2 M53 352.55H56.2" class="ax" stroke-width="1"/>
<path d="M56.2 349.75V426.25" class="ax"/>
<path d="M53.2 426.25H167.4" class="ax"/>
<rect x="60.75" y="419.25" width="7.2" height="7" class="bar"/>
<path d="M64.35 419.25V416.85M62.05 416.85H66.65" class="err"/>
<text transform="translate(66.6 432.2) rotate(-90)" class="rl" style="font-size:7.7px" textLength="21.8" lengthAdjust="spacingAndGlyphs">Saline</text>
<rect x="72.65" y="364.95" width="7.2" height="61.3" class="bar"/>
<path d="M76.25 364.95V354.85M73.95 354.85H78.55" class="err"/>
<text transform="translate(79.18 432.2) rotate(-90)" class="rl" style="font-size:8.2px" textLength="12.8" lengthAdjust="spacingAndGlyphs">LPS</text>
<rect x="84.55" y="394.75" width="7.2" height="31.5" class="bar"/>
<path d="M88.15 394.75V385.95M85.85 385.95H90.45" class="err"/>
<text transform="translate(90.11 432.2) rotate(-90)" class="rl" style="font-size:8.0px" textLength="34.3" lengthAdjust="spacingAndGlyphs">FVIIa/LPS</text>
<rect x="96.45" y="424.55" width="7.2" height="1.7" class="bar"/>
<text transform="translate(102.3 432.2) rotate(-90)" class="rl" style="font-size:7.7px" textLength="21.8" lengthAdjust="spacingAndGlyphs">Saline</text>
<rect x="108.35" y="382.75" width="7.2" height="43.5" class="bar"/>
<path d="M111.95 382.75V372.95M109.65 372.95H114.25" class="err"/>
<text transform="translate(114.88 432.2) rotate(-90)" class="rl" style="font-size:8.2px" textLength="12.8" lengthAdjust="spacingAndGlyphs">LPS</text>
<rect x="120.25" y="412.85" width="7.2" height="13.4" class="bar"/>
<path d="M123.85 412.85V409.75M121.55 409.75H126.15" class="err"/>
<text transform="translate(125.81 432.2) rotate(-90)" class="rl" style="font-size:8.0px" textLength="34.3" lengthAdjust="spacingAndGlyphs">FVIIa/LPS</text>
<rect x="132.15" y="423.95" width="7.2" height="2.3" class="bar"/>
<text transform="translate(138 432.2) rotate(-90)" class="rl" style="font-size:7.7px" textLength="21.8" lengthAdjust="spacingAndGlyphs">Saline</text>
<rect x="144.05" y="364.65" width="7.2" height="61.6" class="bar"/>
<path d="M147.65 364.65V356.85M145.35 356.85H149.95" class="err"/>
<text transform="translate(150.58 432.2) rotate(-90)" class="rl" style="font-size:8.2px" textLength="12.8" lengthAdjust="spacingAndGlyphs">LPS</text>
<rect x="155.95" y="373.95" width="7.2" height="52.3" class="bar"/>
<path d="M159.55 373.95V363.25M157.25 363.25H161.85" class="err"/>
<text transform="translate(161.51 432.2) rotate(-90)" class="rl" style="font-size:8.0px" textLength="34.3" lengthAdjust="spacingAndGlyphs">FVIIa/LPS</text>
<path d="M64.35 426.25V429.15 M76.25 426.25V429.15 M88.15 426.25V429.15 M100.05 426.25V429.15 M111.95 426.25V429.15 M123.85 426.25V429.15 M135.75 426.25V429.15 M147.65 426.25V429.15 M159.55 426.25V429.15" class="ax" stroke-width="1.1"/>
<path d="M74.2 352.65H90.4" class="sig"/>
<text x="83.4" y="351" class="st">*</text>
<path d="M108.5 370.15H125" class="sig"/>
<text x="117.7" y="368.81" class="st">*</text>
<path d="M145.1 353.65H162" class="sig"/>
<text x="153.8" y="350.8" class="ns">ns</text>
<path d="M56.1 469.9H89.9" class="grp"/>
<text x="73" y="480.7" class="gt" textLength="11.4" lengthAdjust="spacingAndGlyphs">WT</text>
<path d="M99.2 469.9H132.7" class="grp"/>
<text x="115.95" y="480.7" class="gt" textLength="37.3" lengthAdjust="spacingAndGlyphs">Tie2-EPCR</text>
<path d="M140.5 469.9H174.4" class="grp"/>
<text x="157.45" y="480.7" class="gt" textLength="34" lengthAdjust="spacingAndGlyphs">EPCR-def</text>
<text transform="translate(20.1 389.3) rotate(-90)" class="yl" textLength="34.5" lengthAdjust="spacingAndGlyphs">IL-6 levels</text>
<text transform="translate(30.2 387.3) rotate(-90)" class="yl" style="font-size:8.2px" textLength="54.5" lengthAdjust="spacingAndGlyphs">(pg/mg protein)</text>
</svg>
</body></html>
